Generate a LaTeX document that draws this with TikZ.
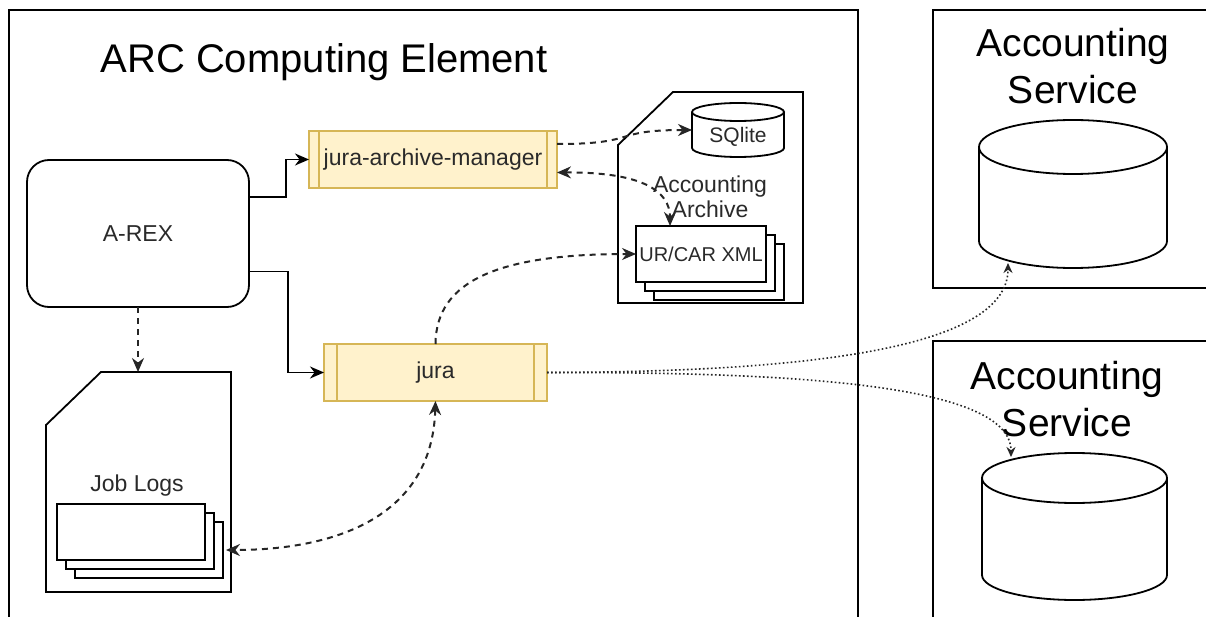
\documentclass[tikz,border=0pt]{standalone}
\usepackage{fontspec}
\setmainfont{Liberation Sans}
\usetikzlibrary{positioning,calc,shadows,arrows.meta}
\definecolor{ProcFill}{HTML}{FFF2CC}
\definecolor{ProcLine}{HTML}{D6B656}
\definecolor{InkGrey}{HTML}{2A2A2A}
\tikzset{
  frame/.style={
    draw, line width=2pt, rectangle,
    inner sep=0pt, outer sep=0pt,
    anchor=north west
  },
  outline/.style={
    draw, line width=1.8pt
  },
  title label/.style={
    font=\fontsize{40}{48}\selectfont, inner sep=0pt
  },
  big label/.style={
    font=\fontsize{39}{47}\selectfont, align=center, inner sep=0pt
  },
  small label/.style={
    font=\fontsize{23}{25}\selectfont, text=InkGrey, align=center, inner sep=0pt
  },
}
\tikzset{
  process/.style={
    draw=ProcLine, fill=ProcFill, line width=1.8pt, rectangle,
    minimum height=57pt, inner sep=0pt, outer sep=0pt,
    font=\fontsize{23}{25}\selectfont, text=InkGrey,
    path picture={
      \draw[ProcLine, line width=1.8pt]
        ([xshift=#1]path picture bounding box.north west) --
        ([xshift=#1]path picture bounding box.south west)
        ([xshift=-#1]path picture bounding box.north east) --
        ([xshift=-#1]path picture bounding box.south east);
    }
  },
  service/.style={
    draw, line width=1.8pt, rectangle, rounded corners=22pt,
    inner sep=0pt, outer sep=0pt,
    font=\fontsize{23}{25}\selectfont, text=InkGrey
  },
  doc stack/.style={
    draw, fill=white, line width=1.8pt, rectangle,
    minimum height=56pt, inner sep=0pt, outer sep=0pt,
    copy shadow={shadow xshift=18pt, shadow yshift=-18pt},
    copy shadow={shadow xshift=9pt, shadow yshift=-9pt},
  },
  store/.style={
    rectangle, inner sep=0pt, outer sep=0pt
  },
  card/.style={
    rectangle, inner sep=0pt, outer sep=0pt
  },
}
\tikzset{
  flow/.style={
    line width=1.8pt, ->
  },
  dep/.style={
    line width=2pt, black!85, dash pattern=on 6pt off 5pt
  },
  report/.style={
    line width=1.6pt, black!85, dash pattern=on 1.6pt off 2.4pt,
    -{Stealth[length=10pt,width=9pt]}
  },
}
\newcommand\storeshape[2]{%
  \draw[outline] let \p1=(#1.north west), \p2=(#1.south east),
      \n1={(\x2-\x1)/2} in
    (\x1,\y1-#2pt) -- (\x1,\y2+#2pt)
    arc[start angle=180, end angle=360, x radius=\n1, y radius=#2pt]
    -- (\x2,\y1-#2pt)
    (\x1+\n1,\y1-#2pt) ellipse[x radius=\n1, y radius=#2pt];
}
\newcommand\cardshape[1]{%
  \draw[outline] ([yshift=-53pt]#1.north west) -- ([xshift=55pt]#1.north west)
    -- (#1.north east) -- (#1.south east) -- (#1.south west) -- cycle;
}

\begin{document}
\begin{tikzpicture}[x=1pt, y=-1pt, >={Stealth[length=14pt,width=12pt]}]
  \useasboundingbox[fill=white] (0,0) rectangle (1206,617);

  \node[frame, minimum width=849pt, minimum height=660pt] (ce) at (9,10) {};
  \node[title label] (ceTitle) at (324,62) {ARC Computing Element};

  \node[frame, minimum width=300pt, minimum height=278pt] (acc1) at (933,10) {};
  \node[big label] (acc1Title) at (1073,66) {Accounting\\Service};
  \node[store, minimum width=188pt, minimum height=148pt] (db1) at (1073,194) {};
  \storeshape{db1}{27}

  \node[frame, minimum width=300pt, minimum height=300pt] (acc2) at (933,341) {};
  \node[big label] (acc2Title) at (1067,399.5) {Accounting\\Service};
  \node[store, minimum width=185pt, minimum height=147pt] (db2) at (1074.5,526.5) {};
  \storeshape{db2}{25}

  \node[service, minimum width=222pt, minimum height=147pt] (arex) at (138,233.5) {A-REX};
  \node[process=10pt, minimum width=248pt] (manager) at (433,159.5) {jura-archive-manager};
  \node[process=13pt, minimum width=223pt] (jura) at (435.5,372.5) {jura};

  \node[card, minimum width=185pt, minimum height=211pt] (archive) at (710.5,197.5) {};
  \cardshape{archive}
  \node[small label] (archiveTitle) at (710,197) {Accounting\\Archive};
  \node[store, minimum width=92pt, minimum height=54pt] (sqlite) at (738,130) {};
  \storeshape{sqlite}{9}
  \node[small label, font=\fontsize{21}{25}\selectfont] (sqliteTitle) at (738,137) {SQlite};
  \node[doc stack, minimum width=130pt, font=\fontsize{20}{24}\selectfont, text=InkGrey]
    (xml) at (701,254) {UR/CAR XML};

  \node[card, minimum width=185pt, minimum height=220pt] (logcard) at (138.5,482) {};
  \cardshape{logcard}
  \node[small label] (logTitle) at (137,486) {Job Logs};
  \node[doc stack, minimum width=148pt] (joblog) at (131,532) {};

  \draw[flow] ([yshift=36.5pt]arex.east) -- ++(37pt,0) |- (manager.west);
  \draw[flow] ([yshift=-38pt]arex.east) -- ++(39pt,0) |- (jura.west);
  \draw[flow, dep] (arex.south) -- (arex.south |- logcard.north);

  \draw[dep, ->] ([yshift=15.5pt]manager.east)
    .. controls (640,144) and (610,130) .. (sqlite.west);
  \draw[dep, <->] ([yshift=-13pt]manager.east)
    .. controls (640,172) and (670,190) .. ([xshift=-31pt]xml.north);
  \draw[dep, ->] (jura.north)
    .. controls (436,280) and (500,254) .. (xml.west);
  \draw[dep, <->] (jura.south)
    .. controls (432,520) and (330,550) .. ([xshift=21pt,yshift=-18pt]joblog.east);

  \draw[report] (jura.east)
    .. controls (800,372) and (1008,350) .. ([xshift=-65pt,yshift=5pt]db1.south);
  \draw[report] (jura.east)
    .. controls (800,372) and (1011,385) .. ([xshift=-63.5pt,yshift=-4pt]db2.north);
\end{tikzpicture}
\end{document}
